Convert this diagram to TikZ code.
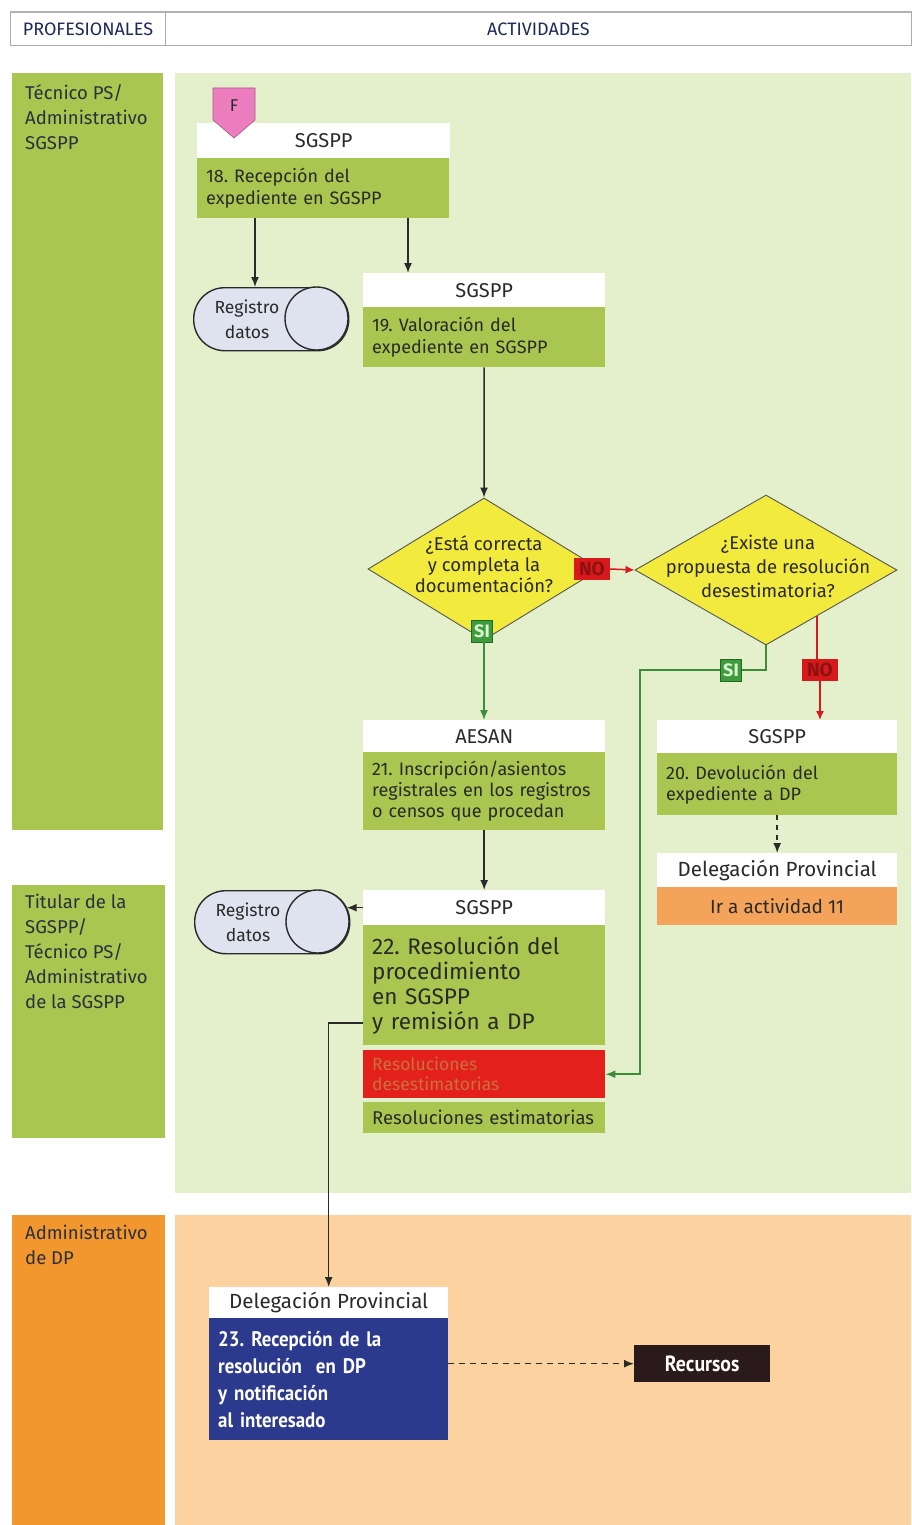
\documentclass[tikz,border=0pt]{standalone}
\usepackage{fontspec}
\setmainfont{Fira Sans}
\newfontfamily\narrowbf{PT Sans}[FakeStretch=0.9]
\usetikzlibrary{arrows.meta,shapes.geometric}

\definecolor{leaf}{HTML}{A8C650}
\definecolor{paleleaf}{HTML}{E4EFCB}
\definecolor{laneorange}{HTML}{F2962E}
\definecolor{paleorange}{HTML}{FCD3A0}
\definecolor{gotoorange}{HTML}{F4A45A}
\definecolor{ink}{HTML}{2A2A2A}
\definecolor{navy}{HTML}{1E2B5A}
\definecolor{lanetext}{HTML}{2A3040}
\definecolor{decision}{HTML}{F2EA3C}
\definecolor{nored}{HTML}{D7191C}
\definecolor{nodark}{HTML}{8E1111}
\definecolor{sigreen}{HTML}{3E9B3E}
\definecolor{sidark}{HTML}{1F6B1F}
\definecolor{silight}{HTML}{D9F5CF}
\definecolor{flow}{HTML}{3C8C3C}
\definecolor{fpink}{HTML}{EC7EC0}
\definecolor{regfill}{HTML}{DFE3F0}
\definecolor{rejectred}{HTML}{E4201C}
\definecolor{rejecttext}{HTML}{C8703F}
\definecolor{dpblue}{HTML}{2B3A8C}
\definecolor{appealbox}{HTML}{2A1A1C}

\tikzset{
  lanebox/.style={anchor=north west, inner sep=0pt, draw=none},
  lanelabel/.style={anchor=north west, inner sep=0pt, align=left, text=lanetext,
    font=\fontsize{18.5}{25}\selectfont},
  headbox/.style n args={2}{anchor=north west, fill=white, inner sep=0pt,
    minimum width=#1, minimum height=#2, text=ink, font=\fontsize{20}{22}\selectfont},
  bodybox/.style n args={3}{anchor=north west, fill=leaf, inner xsep=9pt, inner ysep=0pt,
    text width=#1, minimum height=#2, align=left, text=ink, font=#3},
  arr/.style={draw=ink, line width=1.5pt, -{Latex[length=10pt,width=8pt]}},
  garr/.style={draw=flow, line width=1.5pt, -{Latex[length=10pt,width=8pt]}},
  rarr/.style={draw=nored, line width=1.5pt, -{Latex[length=9pt,width=8pt]}},
  decide/.style n args={2}{diamond, fill=decision, draw=ink!80, line width=0.9pt,
    inner sep=0pt, minimum width=#1, minimum height=#2},
  dtext/.style={align=center, text=ink, font=\fontsize{18.5}{21}\selectfont},
  notag/.style={fill=nored, text=nodark, inner xsep=5pt, inner ysep=2pt, minimum height=22pt,
    font=\bfseries\fontsize{19}{20}\selectfont},
  sitag/.style={fill=sigreen, draw=sidark, line width=0.6pt, text=silight, inner xsep=3pt,
    inner ysep=2pt, minimum height=22pt, font=\bfseries\fontsize{18}{19}\selectfont},
  regbox/.style={anchor=north west, fill=regfill, draw=ink, line width=1.4pt,
    rounded corners=31pt, minimum width=155pt, minimum height=63pt, inner sep=0pt},
  regend/.style={circle, fill=regfill, draw=ink, line width=1.4pt, minimum size=63pt,
    inner sep=0pt},
  regtext/.style={align=center, text=ink, font=\fontsize{17.5}{25}\selectfont},
}

\begin{document}
\frenchspacing
\begin{tikzpicture}[x=1pt,y=-1pt]
\useasboundingbox (0,0) rectangle (911,1525);
\fill[white] (0,0) rectangle (911,1525);

% ---- swimlane backgrounds ----
\node[lanebox, fill=paleleaf, minimum width=736pt, minimum height=1120pt] (act1) at (175,73) {};
\node[lanebox, fill=paleorange, minimum width=736pt, minimum height=310pt] (act2) at (175,1215) {};
\node[lanebox, fill=leaf, minimum width=151pt, minimum height=757pt] (lane1) at (12,73) {};
\node[lanebox, fill=leaf, minimum width=153pt, minimum height=253pt] (lane2) at (12,885) {};
\node[lanebox, fill=laneorange, minimum width=153pt, minimum height=310pt] (lane3) at (12,1215) {};

\node[lanelabel] (lane1t) at (25,84) {Técnico PS/\\Administrativo\\SGSPP};
\node[lanelabel] (lane2t) at (25,894) {Titular de la\\SGSPP/\\Técnico PS/\\Administrativo\\de la SGSPP};
\node[lanelabel] (lane3t) at (25,1225) {Administrativo\\de DP};

% ---- column header ----
\node[anchor=north west, draw=gray!65, line width=1pt, inner sep=0pt, minimum width=155pt,
  minimum height=33pt, text=navy, font=\fontsize{18}{18}\selectfont] (hprof) at (10,12) {PROFESIONALES};
\node[anchor=north west, draw=gray!65, line width=1pt, inner sep=0pt, minimum width=746pt,
  minimum height=33pt, text=navy, font=\fontsize{18}{18}\selectfont] (hact) at (165,12) {ACTIVIDADES};
\draw[gray!60, line width=2.5pt] (hprof.north west) -- (hact.north east);

% ---- activity 18 ----
\node[headbox={253pt}{35pt}] (h18) at (197,123) {SGSPP};
\node[bodybox={234pt}{60pt}{\fontsize{18}{22}\selectfont}] (b18) at (197,158)
  {18. Recepción del\\expediente en SGSPP};
\fill[fpink, draw=fpink!70!black, line width=0.6pt]
  (213,88) -- (255,88) -- (255,120) -- (234,138) -- (213,120) -- cycle;
\node[text=ink, font=\fontsize{17}{17}\selectfont] (fmark) at (234,106) {F};

% ---- data record (upper) ----
\node[regbox] (reg1) at (193,287) {};
\node[regend] (reg1c) at (316.5,318.5) {};
\node[regtext] (reg1t) at (247,319) {Registro\\datos};

% ---- activity 19 ----
\node[headbox={242pt}{34pt}] (h19) at (363,273) {SGSPP};
\node[bodybox={224pt}{60pt}{\fontsize{18}{22}\selectfont}] (b19) at (363,307)
  {19. Valoración del\\expediente en SGSPP};

% ---- decisions ----
\node[decide={232pt}{142pt}] (d1) at (484,569) {};
\node[dtext] (d1t) at (484,564) {¿Está correcta\\y completa la\\documentación?};
\node[decide={262pt}{150pt}] (d2) at (766,570) {};
\node[dtext, font=\fontsize{18.5}{24}\selectfont] (d2t) at (768,566)
  {¿Existe una\\propuesta de resolución\\desestimatoria?};

% ---- activity 21 ----
\node[headbox={242pt}{32pt}] (h21) at (363,720) {AESAN};
\node[bodybox={224pt}{78pt}{\fontsize{18}{21}\selectfont}] (b21) at (363,752)
  {21. Inscripción/asientos\\registrales en los registros\\o censos que procedan};

% ---- activity 20 and hand-back ----
\node[headbox={240pt}{33pt}] (h20) at (657,720) {SGSPP};
\node[bodybox={222pt}{62pt}{\fontsize{18}{21}\selectfont}] (b20) at (657,753)
  {20. Devolución del\\expediente a DP};
\node[headbox={240pt}{34pt}, font=\fontsize{20.5}{22}\selectfont] (hdel) at (657,853) {Delegación Provincial};
\node[anchor=north west, fill=gotoorange, inner sep=0pt, minimum width=240pt, minimum height=38pt,
  text=ink, font=\fontsize{19}{20}\selectfont] (bdel) at (657,887) {Ir a actividad 11};

% ---- activity 22 ----
\node[headbox={242pt}{35pt}] (h22) at (363,890) {SGSPP};
\node[bodybox={224pt}{120pt}{\fontsize{22.5}{25}\selectfont}] (b22) at (363,925)
  {22. Resolución del\\procedimiento\\en SGSPP\\y remisión a DP};
\node[bodybox={224pt}{48pt}{\fontsize{17.5}{20}\selectfont}, fill=rejectred, text=rejecttext] (rdes) at (363,1050)
  {Resoluciones\\desestimatorias};
\node[bodybox={224pt}{31pt}{\fontsize{18.5}{19}\selectfont}] (rest) at (363,1102)
  {Resoluciones estimatorias};

% ---- data record (lower) ----
\node[regbox] (reg2) at (194,890) {};
\node[regend] (reg2c) at (317.5,921.5) {};
\node[regtext] (reg2t) at (248,922) {Registro\\datos};

% ---- activity 23 ----
\node[headbox={239pt}{31pt}, font=\fontsize{20.5}{22}\selectfont] (h23) at (209,1287) {Delegación Provincial};
\node[anchor=north west, fill=dpblue, inner xsep=9pt, inner ysep=0pt, text width=221pt,
  minimum height=122pt, align=left, text=white,
  font=\narrowbf\bfseries\fontsize{21}{27}\selectfont] (b23) at (209,1318)
  {23. Recepción de la\\resolución\ \ en DP\\y notificación\\al interesado};
\node[anchor=north west, fill=appealbox, inner sep=0pt, minimum width=136pt, minimum height=37pt,
  text=white, font=\narrowbf\bfseries\fontsize{22}{22}\selectfont] (rec) at (634,1345) {Recursos};

% ---- branch tags ----
\node[notag] (no1) at (592,569) {NO};
\node[sitag] (si1) at (482,631) {SI};
\node[sitag] (si2) at (731,670) {SI};
\node[notag] (no2) at (820,670) {NO};

% ---- connectors ----
\draw[arr] ([xshift=58pt]b18.south west) -- ([xshift=58pt]b18.south west |- reg1.north);
\draw[arr] ([xshift=211pt]b18.south west) -- ([xshift=211pt]b18.south west |- h19.north);
\draw[arr] (b19.south) -- (d1.north);
\draw[rarr] (no1.east) -- (d2.west);
\draw[garr] (si1.south -| d1.south) -- (d1.south |- h21.north);
\draw[draw=flow, line width=1.5pt] (d2.south) |- (si2.east);
\coordinate (bend2) at (640,670);
\draw[garr] (si2.west) -- (bend2) |- (rdes.east);
\draw[draw=nored, line width=1.5pt] (d2.-42) -- (d2.-42 |- no2.north);
\draw[rarr] (no2.south) -- (no2.south |- h20.north);
\draw[arr, dash pattern=on 5pt off 5pt] (b20.south) -- (hdel.north);
\draw[arr] (b21.south) -- (h22.north);
\draw[arr] (h22.west) -- (h22.west -| reg2c.25);
\draw[arr] ([yshift=-38pt]b22.west) -| (h23.north);
\draw[arr, dash pattern=on 6pt off 5pt] (b23.east |- rec.west) -- (rec.west);

\end{tikzpicture}
\end{document}
